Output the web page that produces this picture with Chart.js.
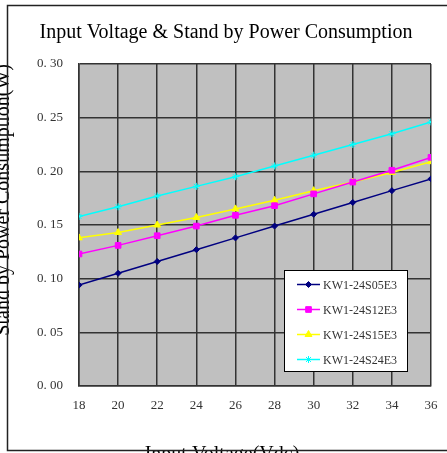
<!DOCTYPE html>
<html>
<head>
<meta charset="utf-8">
<script src="https://cdn.jsdelivr.net/npm/chart.js@4/dist/chart.umd.min.js"></script>
<style>
  body { margin: 0; background: #fff; }
  #wrap { width: 447px; height: 453px; position: relative; }
</style>
</head>
<body>
<div id="wrap"><canvas id="myChart"></canvas></div>
<script>
// input voltage (Vdc)
var voltage = [18, 20, 22, 24, 26, 28, 30, 32, 34, 36];
// stand by power consumption (W) per model
var s05 = [0.094, 0.105, 0.116, 0.127, 0.138, 0.149, 0.160, 0.171, 0.182, 0.193];
var s12 = [0.123, 0.131, 0.140, 0.149, 0.159, 0.168, 0.179, 0.190, 0.201, 0.213];
var s15 = [0.138, 0.143, 0.150, 0.157, 0.165, 0.173, 0.182, 0.190, 0.199, 0.209];
var s24 = [0.158, 0.167, 0.177, 0.186, 0.195, 0.205, 0.215, 0.225, 0.235, 0.246];
var models = ['KW1-24S05E3', 'KW1-24S12E3', 'KW1-24S15E3', 'KW1-24S24E3'];

var serif = "'Liberation Serif', 'DejaVu Serif', serif";

function pts(vals) {
  return vals.map(function (v, i) { return { x: voltage[i], y: v }; });
}

// grey plot area + frame, x title, legend box
var extras = {
  id: 'extras',
  beforeDraw: function (chart) {
    var ctx = chart.ctx, a = chart.chartArea;
    ctx.save();
    ctx.fillStyle = '#c0c0c0';
    ctx.fillRect(a.left, a.top, a.right - a.left, a.bottom - a.top);
    ctx.restore();
  },
  afterDraw: function (chart) {
    var ctx = chart.ctx, a = chart.chartArea;
    ctx.save();
    // x axis title
    ctx.fillStyle = '#000';
    ctx.font = '20px ' + serif;
    ctx.textAlign = 'center';
    ctx.textBaseline = 'alphabetic';
    ctx.fillText('Input Voltage(Vdc)', 222, 460);

    // outer frame
    ctx.strokeStyle = '#222';
    ctx.lineWidth = 1.5;
    ctx.beginPath();
    ctx.moveTo(460, 5.5);
    ctx.lineTo(7.5, 5.5);
    ctx.lineTo(7.5, 450.5);
    ctx.lineTo(460, 450.5);
    ctx.stroke();

    // legend
    var lx = a.right - 147, ly = a.top + 206, lw = 123, lh = 101;
    ctx.fillStyle = '#fff';
    ctx.fillRect(lx, ly, lw, lh);
    ctx.strokeStyle = '#000';
    ctx.lineWidth = 1;
    ctx.strokeRect(lx + 0.5, ly + 0.5, lw, lh);
    chart.data.datasets.forEach(function (ds, i) {
      var y = ly + 14.5 + i * 25;
      ctx.strokeStyle = ds.borderColor;
      ctx.lineWidth = 1.5;
      ctx.beginPath();
      ctx.moveTo(lx + 13, y);
      ctx.lineTo(lx + 36, y);
      ctx.stroke();
      ctx.fillStyle = ds.pointBackgroundColor;
      ctx.strokeStyle = ds.pointBorderColor;
      ctx.lineWidth = ds.pointBorderWidth;
      Chart.helpers.drawPoint(ctx, {
        pointStyle: ds.pointStyle, radius: ds.pointRadius,
        borderWidth: ds.pointBorderWidth, rotation: 0
      }, lx + 24.5, y);
      ctx.fillStyle = '#333';
      ctx.font = '12px ' + serif;
      ctx.textAlign = 'left';
      ctx.textBaseline = 'middle';
      ctx.fillText(ds.label, lx + 39, y + 1);
    });
    ctx.restore();
  }
};

var colors = ['#000080', '#ff00ff', '#ffff00', '#00ffff'];
var styles = ['rectRot', 'rect', 'triangle', 'star'];
var radii = [3, 4, 4, 3.5];
var series = [s05, s12, s15, s24];

var ctx = document.getElementById('myChart').getContext('2d');
var myChart = new Chart(ctx, {
  type: 'line',
  data: {
    datasets: series.map(function (s, i) {
      return {
        label: models[i],
        data: pts(s),
        borderColor: colors[i],
        backgroundColor: colors[i],
        pointBackgroundColor: colors[i],
        pointBorderColor: colors[i],
        pointBorderWidth: 1,
        pointStyle: styles[i],
        pointRadius: radii[i],
        borderWidth: 1.5,
        tension: 0
      };
    })
  },
  options: {
    responsive: true,
    maintainAspectRatio: false,
    animation: false,
    layout: { padding: { left: 21, right: 16, top: 0, bottom: 0 } },
    plugins: {
      legend: { display: false },
      tooltip: { enabled: false },
      title: {
        display: true,
        text: 'Input Voltage & Stand by Power Consumption',
        color: '#000',
        font: { family: serif, size: 20, weight: 'normal' },
        padding: { top: 21, bottom: 19 }
      }
    },
    scales: {
      x: {
        type: 'linear',
        min: 18,
        max: 36,
        ticks: {
          stepSize: 2,
          padding: 12,
          color: '#333',
          font: { family: serif, size: 13 }
        },
        grid: { color: '#333', lineWidth: 1.5, drawTicks: false },
        border: { color: '#333', width: 1.5 },
        afterFit: function (scale) {
          scale.height = 67;
          scale.paddingLeft = 0;
          scale.paddingRight = 0;
        }
      },
      y: {
        min: 0,
        max: 0.3,
        ticks: {
          stepSize: 0.05,
          padding: 16,
          color: '#333',
          font: { family: serif, size: 13 },
          callback: function (v) { return v.toFixed(2).replace('.', '. '); }
        },
        grid: { color: '#333', lineWidth: 1.5, drawTicks: false },
        border: { color: '#333', width: 1.5 },
        title: {
          display: true,
          text: 'Stand by Power Consumption(W)',
          align: 'end',
          color: '#000',
          font: { family: serif, size: 20, weight: 'normal' },
          padding: { top: -29.5, bottom: 0 }
        },
        afterFit: function (scale) {
          scale.width = 58;
          scale.paddingTop = 0;
          scale.paddingBottom = 0;
        }
      }
    }
  },
  plugins: [extras]
});
</script>
</body>
</html>
